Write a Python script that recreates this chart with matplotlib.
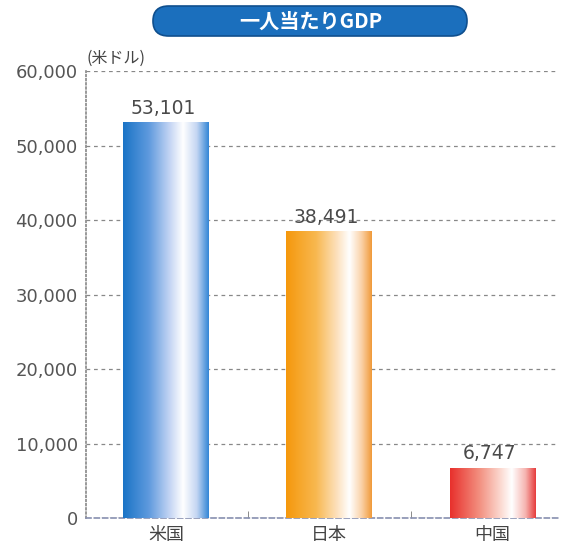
import numpy as np
import matplotlib
matplotlib.use("Agg")
import matplotlib.pyplot as plt
from matplotlib.colors import LinearSegmentedColormap
from matplotlib.patches import FancyBboxPatch
from matplotlib.ticker import FuncFormatter, FixedLocator

plt.rcParams['font.family'] = ['Noto Sans CJK JP', 'DejaVu Sans']

categories = ["米国", "日本", "中国"]
values = [53101, 38491, 6747]
value_labels = ["53,101", "38,491", "6,747"]
yticks = [0, 10000, 20000, 30000, 40000, 50000, 60000]
title = "一人当たりGDP"
unit = "(米ドル)"

gradients = [
    [(0.0, "#1a74c6"), (0.3, "#5f9ade"), (0.55, "#c6d6f4"), (0.7, "#ffffff"),
     (0.86, "#c4d6f2"), (1.0, "#3486d6")],
    [(0.0, "#f5980c"), (0.35, "#f8b850"), (0.6, "#fde2c0"), (0.74, "#ffffff"),
     (0.88, "#fad2a8"), (1.0, "#f09a3a")],
    [(0.0, "#e8302c"), (0.35, "#f39282"), (0.6, "#fcdcd4"), (0.72, "#ffffff"),
     (0.88, "#f6b4b0"), (1.0, "#e63c3c")],
]

fig = plt.figure(figsize=(5.63, 5.47), dpi=100)
ax = fig.add_axes([86/563, 1-518/547, (558-86)/563, (518-71)/547])

x = np.arange(len(categories))
bars = ax.bar(x, values, width=0.525, facecolor="none", edgecolor="none", zorder=3)
grad = np.linspace(0, 1, 256).reshape(1, -1)
for b, g in zip(bars, gradients):
    cmap = LinearSegmentedColormap.from_list("g", g)
    x0, w, h = b.get_x(), b.get_width(), b.get_height()
    im = ax.imshow(grad, cmap=cmap, aspect="auto", extent=[x0, x0 + w, 0, h],
                   zorder=3, interpolation="bilinear")
    im.set_clip_path(b)

for xi, v, lab in zip(x, values, value_labels):
    ax.text(xi - 0.02, v + 600, lab, ha="center", va="bottom", fontsize=13.5,
            color="#4a4a4a", family=['DejaVu Sans'], zorder=4)

ax.set_xlim(-0.49, 2.40)
ax.set_ylim(0, 60000)
ax.set_yticks(yticks)
ax.yaxis.set_major_formatter(FuncFormatter(lambda v, p: f"{int(v):,}"))
ax.set_xticks(x)
ax.set_xticklabels(categories)
ax.xaxis.set_minor_locator(FixedLocator([0.5, 1.5]))
ax.tick_params(axis="x", which="major", length=0, pad=6, labelsize=13, labelcolor="#444444")
ax.tick_params(axis="x", which="minor", direction="in", length=5, color="#777777")
ax.tick_params(axis="y", length=0, pad=6, labelsize=13, labelcolor="#555555")
for lbl in ax.get_yticklabels():
    lbl.set_family(['DejaVu Sans'])

ax.grid(axis="y", linestyle=(0, (3, 3)), color="#888888", linewidth=0.9, zorder=0)
ax.set_axisbelow(True)
for s in ["top", "right"]:
    ax.spines[s].set_visible(False)
ax.spines["left"].set_linestyle((0, (1, 1.5)))
ax.spines["left"].set_color("#888888")
ax.spines["left"].set_linewidth(1.2)
ax.spines["bottom"].set_linestyle((0, (3, 2)))
ax.spines["bottom"].set_color("#8890b0")
ax.spines["bottom"].set_linewidth(1.2)

fig.text(86/563, 1-58/547, unit, fontsize=11.5, color="#444444", ha="left", va="center")

pill = FancyBboxPatch((153/563, 1-36/547), (467-153)/563, 30/547,
                      boxstyle="round,pad=0,rounding_size=0.028",
                      transform=fig.transFigure, facecolor="#1b6fbd",
                      edgecolor="#0f4f8e", linewidth=1.2, mutation_aspect=547/563)
fig.patches.append(pill)
fig.text(311/563, 1-21/547, title, fontsize=14.5, color="white", fontweight="bold",
         ha="center", va="center")

fig.savefig("out.png", dpi=100)
